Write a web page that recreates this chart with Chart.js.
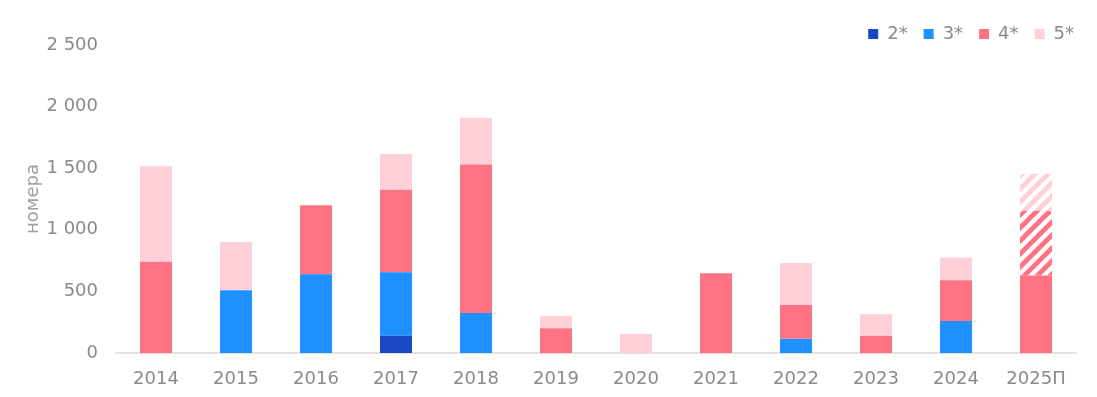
<!DOCTYPE html>
<html>
<head>
<meta charset="utf-8">
<script src="https://cdn.jsdelivr.net/npm/chart.js@4"></script>
<style>
  html, body { margin: 0; padding: 0; background: #fff; overflow: hidden; }
  #wrap { width: 1097px; height: 397px; position: relative; }
</style>
</head>
<body>
<div id="wrap"><canvas id="chart"></canvas></div>
<script>
// ─── Data ────────────────────────────────────────────────────────────────────
const years      = ['2014', '2015', '2016', '2017', '2018', '2019', '2020', '2021', '2022', '2023', '2024', '2025П'];
const stars2     = [0,   0,   0,   140, 0,    0,   0,   0,   0,   0,   0,   0];
const stars3     = [0,   510, 640, 515, 325,  0,   0,   0,   115, 0,   260, 0];
const stars4     = [740, 0,   560, 670, 1205, 200, 0,   647, 275, 140, 330, 630];
const stars5     = [775, 390, 0,   290, 380,  100, 155, 0,   340, 175, 185, 0];
const stars4Plan = [0,   0,   0,   0,   0,    0,   0,   0,   0,   0,   0,   525];
const stars5Plan = [0,   0,   0,   0,   0,    0,   0,   0,   0,   0,   0,   300];
const yTicks     = [0, 500, 1000, 1500, 2000, 2500];

const C2 = '#1848c2', C3 = '#1e90ff', C4 = '#ff7384', C5 = '#ffd0d7';

// ─── Hatch pattern for forecast ──────────────────────────────────────────────
function hatch(color) {
  const s = 13;
  const c = document.createElement('canvas');
  c.width = s; c.height = s;
  const g = c.getContext('2d');
  g.fillStyle = '#fff';
  g.fillRect(0, 0, s, s);
  g.strokeStyle = color;
  g.lineWidth = 4.8;
  g.beginPath();
  g.moveTo(-s / 2, s / 2); g.lineTo(s / 2, -s / 2);
  g.moveTo(0, s); g.lineTo(s, 0);
  g.moveTo(s / 2, s * 1.5); g.lineTo(s * 1.5, s / 2);
  g.stroke();
  return g.createPattern(c, 'repeat');
}

const fmt = v => v >= 1000 ? Math.floor(v / 1000) + ' ' + String(v % 1000).padStart(3, '0') : String(v);
const grey = '#8a8a8a';
const font = { family: 'DejaVu Sans', size: 18 };

const ds = (label, data, bg, extra) => Object.assign({
  label, data, backgroundColor: bg, borderWidth: 0,
  barPercentage: 0.8, categoryPercentage: 0.5, stack: 's',
}, extra);

const roundTop = { borderRadius: { topLeft: 4, topRight: 4, bottomLeft: 0, bottomRight: 0 }, borderSkipped: false };

// legend sits a little lower and further right than Chart.js puts it
const nudgeLegend = {
  id: 'nudgeLegend',
  afterLayout(chart) {
    const lg = chart.legend;
    lg.left += 14; lg.right += 14;
    lg.top += 8; lg.bottom += 8;
  },
};

new Chart(document.getElementById('chart'), {
  type: 'bar',
  data: {
    labels: years,
    datasets: [
      ds('2*', stars2, C2),
      ds('3*', stars3, C3),
      ds('4*', stars4, C4),
      ds('4* прогноз', stars4Plan, hatch(C4), roundTop),
      ds('5*', stars5, C5),
      ds('5* прогноз', stars5Plan, hatch(C5), roundTop),
    ],
  },
  plugins: [nudgeLegend],
  options: {
    responsive: true, maintainAspectRatio: false, animation: false,
    layout: { padding: { left: 0, right: 21, top: 1, bottom: 0 } },
    plugins: {
      tooltip: { enabled: false },
      legend: {
        position: 'top', align: 'end',
        labels: {
          filter: item => !item.text.includes('прогноз'),
          color: grey, font,
          boxWidth: 10, boxHeight: 10, padding: 16,
        },
      },
    },
    scales: {
      x: {
        stacked: true,
        afterFit: s => { s.height = 44; },
        grid: { display: false, drawTicks: false },
        border: { color: '#e2e2e2', width: 2 },
        ticks: { color: grey, font, padding: 16 },
      },
      y: {
        stacked: true, min: 0, max: 2500,
        afterFit: s => { s.width = 116; },
        afterBuildTicks: axis => { axis.ticks = yTicks.map(v => ({ value: v })); },
        grid: { display: false, drawTicks: false },
        border: { display: false },
        ticks: { color: grey, font, padding: 18, callback: v => fmt(v) },
        title: { display: true, text: 'номера', color: '#a0a0a0', font, padding: { top: 23, bottom: 0 } },
      },
    },
  },
});
</script>
</body>
</html>
